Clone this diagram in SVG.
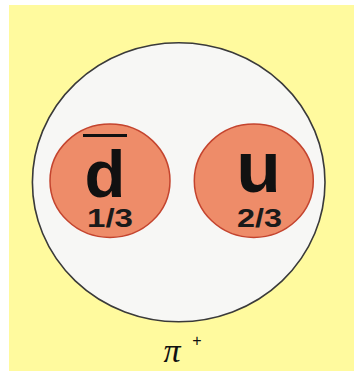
<svg xmlns="http://www.w3.org/2000/svg" width="354" height="371" viewBox="0 0 354 371">
<style>
.quark{fill:#EE8C69;stroke:#C4442E;stroke-width:1.5}
.flav{font-family:"Liberation Sans",Arial,sans-serif;font-weight:bold;fill:#111;text-anchor:middle}
.chg{font-family:"Liberation Sans",Arial,sans-serif;font-weight:bold;font-size:26px;fill:#1a1a1a;text-anchor:middle}
</style>
<rect x="0" y="0" width="354" height="371" fill="#ffffff"/>
<rect x="9" y="5" width="345" height="366" fill="#FFFA9E"/>
<g id="pion">
<ellipse cx="178.7" cy="182.2" rx="146.3" ry="139.5" fill="#F7F7F5" stroke="#3a3a3a" stroke-width="1.6"/>
<text x="172" y="362" font-family="'Liberation Serif','Times New Roman',serif" font-style="italic" font-size="34" fill="#111" text-anchor="middle">π</text>
<text x="197" y="346" font-family="'Liberation Sans',Arial,sans-serif" font-size="16" fill="#111" text-anchor="middle">+</text>
</g>
<g id="antidown">
<ellipse class="quark" cx="110" cy="180.7" rx="60" ry="56.7"/>
<line x1="83" y1="135.5" x2="127" y2="135.5" stroke="#111" stroke-width="3"/>
<text class="flav" x="105" y="197" font-size="67">d</text>
<text class="chg" x="110" y="227" textLength="46" lengthAdjust="spacingAndGlyphs">1/3</text>
</g>
<g id="up">
<ellipse class="quark" cx="253.8" cy="180.7" rx="59.5" ry="56.7"/>
<text class="flav" x="258.5" y="192" font-size="73">u</text>
<text class="chg" x="259.5" y="227" textLength="45" lengthAdjust="spacingAndGlyphs">2/3</text>
</g>
<g id="connectors"/>
</svg>
